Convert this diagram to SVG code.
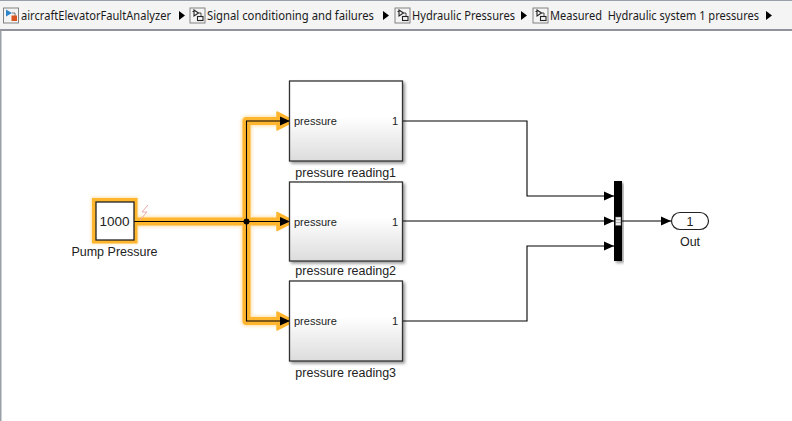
<svg xmlns="http://www.w3.org/2000/svg" width="792" height="421" viewBox="0 0 792 421">
<style>
.crumb{font-family:"Noto Sans","Open Sans","Liberation Sans",sans-serif;font-size:12.5px;fill:#1a1a1a}
.lbl{font-family:"Liberation Sans",Arial,sans-serif;font-size:12.5px;fill:#222}
.num{font-family:"Liberation Sans",Arial,sans-serif;font-size:13.5px;fill:#222}
.port{font-family:"Liberation Sans",Arial,sans-serif;font-size:11px;fill:#222}
.glow{fill:none;stroke:#ffb52e;stroke-width:8;stroke-linejoin:round}
.wire{fill:none;stroke:#000;stroke-width:1.100}
.blk{fill:url(#g);stroke:#333;stroke-width:1.300;filter:url(#s)}
.ico{fill:#f4f4f4;stroke:#777;stroke-width:.9}
.sep{fill:#000}
</style>
<defs>
<linearGradient id="g" x1="0" y1="0" x2="0" y2="1"><stop offset="0.45" stop-color="#fff"/><stop offset="1" stop-color="#dcdcdc"/></linearGradient>
<filter id="s" x="-10%" y="-10%" width="125%" height="125%"><feDropShadow dx="2" dy="2" stdDeviation="1.500" flood-color="#000" flood-opacity=".4"/></filter>
<filter id="h" x="-20%" y="-20%" width="140%" height="140%"><feGaussianBlur stdDeviation="1.500"/></filter>
<marker id="a" markerUnits="userSpaceOnUse" markerWidth="10" markerHeight="10" refX="10" refY="5" orient="auto"><path d="M0 .5L10 5L0 9.500Z" fill="#000"/></marker>
<g id="sub"><rect class="ico" x="0" y="0" width="15" height="15"/><path d="M2.500 3.500H4M4 2l4.500 3L4 8Z" fill="none" stroke="#222" stroke-width="1.100"/><path d="M8.500 5H11V8" fill="none" stroke="#222" stroke-width=".8"/><rect x="7.500" y="8.500" width="5.500" height="4" fill="none" stroke="#222" stroke-width="1.100"/></g>
</defs>
<rect width="792" height="421" fill="#fff"/>
<g id="toolbar">
<rect width="792" height="30" fill="#f4f4f4"/>
<rect width="792" height="1" fill="#9aa0aa"/>
<rect y="29" width="792" height="2" fill="#8e939c"/>
<rect y="30" width="1.500" height="391" fill="#9aa0aa"/>
<g id="crumb1"><rect class="ico" x="3.500" y="8" width="15" height="15"/><path d="M6 9.500l6 3.500-6 3.500Z" fill="#2e86c9"/><path d="M12 13h3v3" fill="none" stroke="#555" stroke-width=".8"/><rect x="11.500" y="15.500" width="5.500" height="5.500" fill="#d9541e"/><text class="crumb" x="21" y="19.500" textLength="150" lengthAdjust="spacingAndGlyphs">aircraftElevatorFaultAnalyzer</text></g>
<path class="sep" d="M179 11l6 4.500-6 4.500Z"/>
<g id="crumb2"><use href="#sub" x="190" y="8"/><text class="crumb" x="207" y="19.500" textLength="167" lengthAdjust="spacingAndGlyphs">Signal conditioning and failures</text></g>
<path class="sep" d="M383 11l6 4.500-6 4.500Z"/>
<g id="crumb3"><use href="#sub" x="395" y="8"/><text class="crumb" x="412" y="19.500" textLength="103" lengthAdjust="spacingAndGlyphs">Hydraulic Pressures</text></g>
<path class="sep" d="M521 11l6 4.500-6 4.500Z"/>
<g id="crumb4"><use href="#sub" x="533" y="8"/><text class="crumb" x="550" y="19.500" textLength="209" lengthAdjust="spacingAndGlyphs" xml:space="preserve">Measured  Hydraulic system 1 pressures</text></g>
<path class="sep" d="M766 11l6 4.500-6 4.500Z"/>
</g>
<g id="highlight">
<g filter="url(#h)" opacity=".35">
<path class="glow" style="stroke-width:11" d="M134 221.500H284M246.500 221.500V121H284M246.500 221.500V321H284"/>
<rect x="93.500" y="199.500" width="42" height="42" fill="none" stroke="#ffb52e" stroke-width="5"/>
</g>
<path class="glow" d="M134 221.500H284M246.500 221.500V121H284M246.500 221.500V321H284"/>
<path d="M277 112L294.500 121L277 130ZM277 212.500L294.500 221.500L277 230.500ZM277 312L294.500 321L277 330Z" fill="#ffb52e" stroke="#ffb52e" stroke-width="1.500" stroke-linejoin="round"/>
<rect x="94" y="200" width="41.500" height="41.500" fill="none" stroke="#ffb52e" stroke-width="4"/>
</g>
<g id="connectors">
<path class="wire" marker-end="url(#a)" d="M134 221.500H290"/>
<path class="wire" marker-end="url(#a)" d="M246.500 221.500V121H290"/>
<path class="wire" marker-end="url(#a)" d="M246.500 221.500V321H290"/>
<circle cx="246.500" cy="221.500" r="3" fill="#000"/>
<path class="wire" marker-end="url(#a)" d="M403 121H527V196H614"/>
<path class="wire" marker-end="url(#a)" d="M403 221H614"/>
<path class="wire" marker-end="url(#a)" d="M403 321H527V246H614"/>
<path class="wire" marker-end="url(#a)" d="M622 221H671"/>
</g>
<g id="pump-pressure">
<rect x="96" y="202" width="38" height="38" fill="#fff" stroke="#222" stroke-width="1.300"/>
<text class="num" x="114.500" y="226" text-anchor="middle">1000</text>
<text class="lbl" x="114.500" y="256" text-anchor="middle">Pump Pressure</text>
<path d="M148 205l-6 7h5l-7 8" fill="none" stroke="#e8a8a8" stroke-width="1"/>
</g>
<g id="pressure-reading1">
<rect class="blk" x="289.500" y="81" width="113" height="80"/>
<text class="port" x="294" y="125">pressure</text><text class="port" x="398" y="125" text-anchor="end">1</text>
<text class="lbl" x="345.700" y="177" text-anchor="middle">pressure reading1</text>
</g>
<g id="pressure-reading2">
<rect class="blk" x="289.500" y="182" width="113" height="79"/>
<text class="port" x="294" y="226">pressure</text><text class="port" x="398" y="226" text-anchor="end">1</text>
<text class="lbl" x="345.700" y="275" text-anchor="middle">pressure reading2</text>
</g>
<g id="pressure-reading3">
<rect class="blk" x="289.500" y="281" width="113" height="80"/>
<text class="port" x="294" y="325">pressure</text><text class="port" x="398" y="325" text-anchor="end">1</text>
<text class="lbl" x="345.700" y="377" text-anchor="middle">pressure reading3</text>
</g>
<g id="mux">
<rect x="614" y="181" width="8" height="80" fill="#000" filter="url(#s)"/>
<rect x="615.500" y="217" width="5.500" height="8.500" fill="#eee" stroke="#555" stroke-width=".5"/>
<path d="M615.500 219.800h5.500M615.500 222.600h5.500" stroke="#555" stroke-width=".5"/>
</g>
<g id="out">
<rect x="671.500" y="212.500" width="37" height="17" rx="8.500" fill="#fff" stroke="#222" stroke-width="1.200"/>
<text class="lbl" x="690" y="225.500" text-anchor="middle">1</text>
<text class="lbl" x="690" y="246" text-anchor="middle">Out</text>
</g>
</svg>
